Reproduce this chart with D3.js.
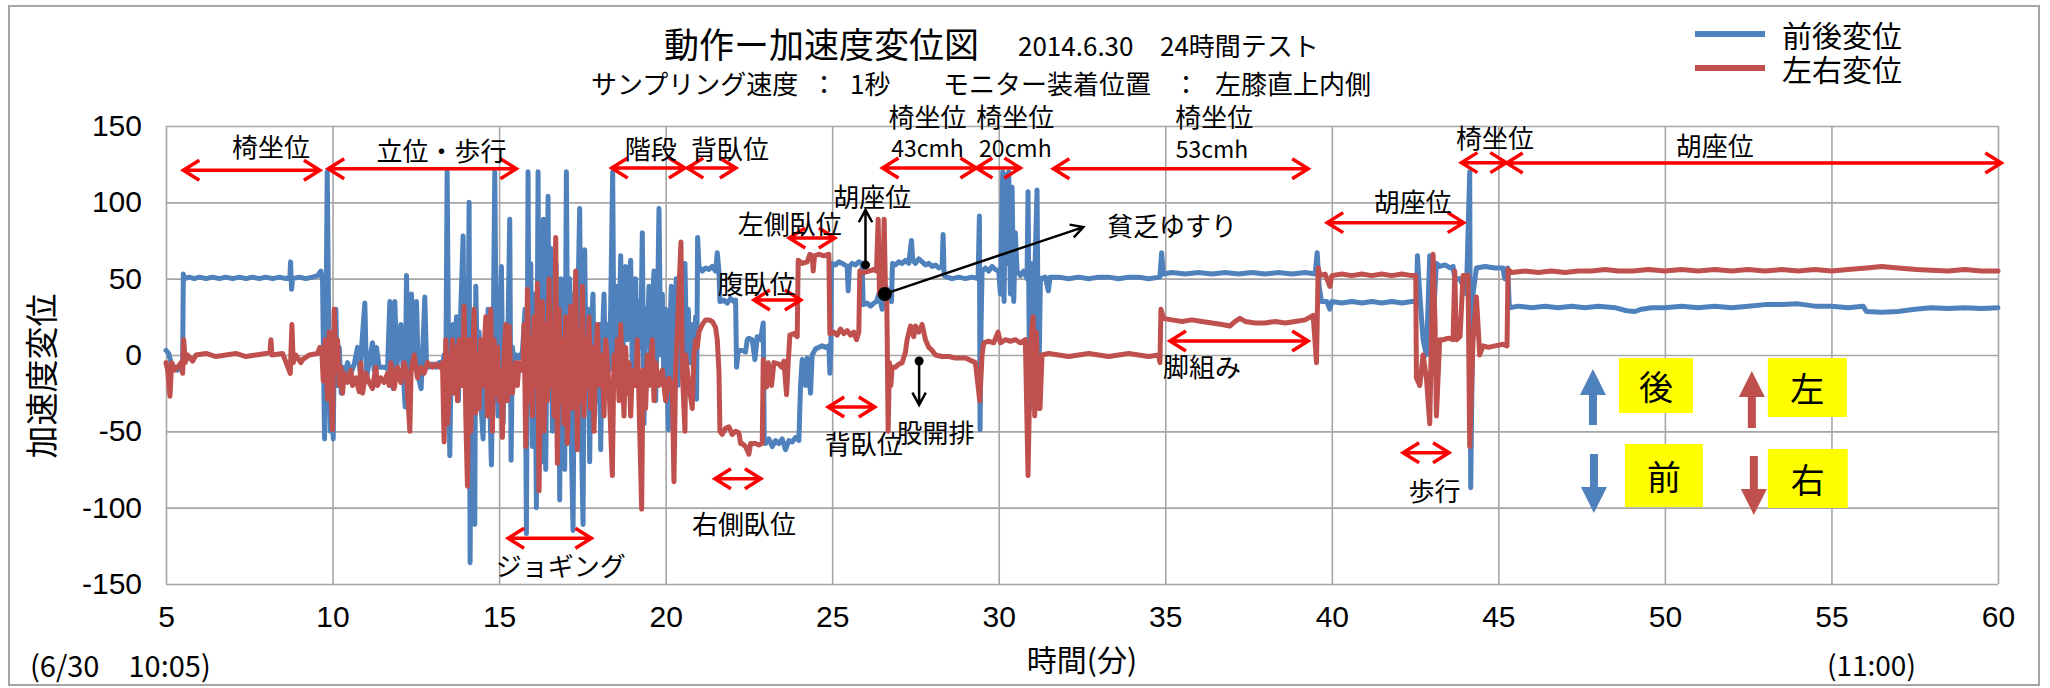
<!DOCTYPE html>
<html>
<head>
<meta charset="utf-8">
<script src="https://cdn.jsdelivr.net/npm/d3@7"></script>
<style>
  body { margin: 0; background: #fff; }
  text { font-family: "Noto Sans CJK JP", "Noto Sans", sans-serif; fill: #000; }
</style>
</head>
<body>
<svg id="chart"></svg>
<script>
// ── data ────────────────────────────────────────────
const xTicks = [5, 10, 15, 20, 25, 30, 35, 40, 45, 50, 55, 60];
const yTicks = [-150, -100, -50, 0, 50, 100, 150];
const seriesNames = ['前後変位', '左右変位'];

// 前後変位 [minutes, value]
const frontBack = [
  [5.00,3],[5.08,1],[5.15,-5],[5.25,-8],[5.35,-10],[5.45,-8],[5.50,-3],
  [5.52,53],[5.56,50],[5.70,51],[5.85,50],[6.00,51],[6.20,50],[6.40,51],[6.60,50],[6.80,51],[7.00,50],
  [7.20,51],[7.40,50],[7.60,51],[7.80,50],[8.00,51],[8.20,50],[8.40,51],[8.60,50],[8.72,51],[8.74,61],
  [8.77,43],[8.80,50],[9.00,51],[9.20,50],[9.40,51],[9.55,52],[9.65,55],[9.70,48],
  [9.76,-55],[9.80,10],[9.84,120],[9.88,30],[9.93,-50],[9.97,10],[10.02,-55],[10.06,15],[10.10,30],
  [10.14,-20],[10.20,5],[10.26,-25],[10.30,-8],[10.38,-12],[10.45,-5],[10.55,-12],[10.65,-6],[10.75,5],
  [10.82,-10],[10.97,34],[11.02,-15],[11.10,-5],[11.20,8],[11.25,-10],[11.32,5],[11.40,-8],[11.55,-8],
  [11.65,-9],[11.72,35],[11.77,-5],[11.82,-22],[11.87,35],[11.93,-8],[12.05,20],[12.12,-10],[12.18,-34],
  [12.22,52],[12.28,-10],[12.37,40],[12.43,-5],[12.52,35],[12.58,-15],[12.66,-22],[12.72,10],[12.77,38],
  [12.82,-5],[12.90,-8],[13.00,-6],[13.10,-8],[13.20,-5],[13.30,-6],
  [13.35,0],[13.40,-20],[13.44,120],[13.48,10],[13.52,-66],[13.56,-5],[13.62,20],[13.68,-10],[13.72,25],
  [13.78,-30],[13.82,10],[13.88,50],[13.92,78],[13.96,-20],[14.00,40],[14.05,-60],[14.10,100],[14.13,-136],
  [14.17,20],[14.22,-40],[14.27,-111],[14.30,45],[14.35,-10],[14.40,15],[14.45,-30],[14.52,-55],[14.57,10],
  [14.62,-20],[14.67,30],[14.72,-30],[14.77,-72],[14.82,0],[14.87,120],[14.92,-10],[14.97,-40],[15.02,20],
  [15.07,58],[15.12,-45],[15.17,10],[15.22,-30],[15.27,20],[15.32,89],[15.36,-69],[15.40,5],[15.45,-5],
  [15.52,0],[15.60,-2],[15.70,2],
  [15.78,30],[15.82,-117],[15.87,120],[15.90,-30],[15.95,60],[16.00,-60],[16.05,40],[16.09,-20],[16.12,-100],
  [16.17,120],[16.20,-40],[16.25,80],[16.30,-70],[16.33,89],[16.37,30],[16.40,-75],[16.44,20],[16.47,104],
  [16.50,-20],[16.55,70],[16.60,-50],[16.63,56],[16.67,40],[16.71,60],[16.75,-60],[16.79,30],[16.82,-95],
  [16.86,50],[16.90,-30],[16.94,10],[16.97,-75],[17.02,120],[17.07,-40],[17.12,50],[17.17,-60],[17.22,-115],
  [17.27,40],[17.32,-20],[17.37,40],[17.42,96],[17.47,-50],[17.52,-111],[17.57,69],[17.62,-30],[17.67,30],
  [17.72,-70],[17.77,20],[17.82,40],[17.87,-40],[17.92,10],[17.97,-30],[18.02,20],
  [18.05,-62],[18.10,10],[18.15,40],[18.20,-20],[18.25,20],[18.30,-10],[18.35,30],[18.41,120],[18.45,-10],
  [18.50,20],[18.55,45],[18.60,0],[18.65,65],[18.70,-20],[18.75,30],[18.80,58],[18.85,10],[18.90,40],
  [18.95,62],[19.00,-10],[19.05,25],[19.10,50],[19.15,-20],[19.20,35],[19.25,5],[19.30,80],[19.35,-45],
  [19.40,30],[19.45,10],[19.50,45],[19.55,-10],[19.60,30],[19.65,55],[19.70,-30],[19.75,20],[19.80,96],
  [19.85,0],[19.90,40],[19.95,-20],[20.00,30],[20.08,-49],[20.12,10],[20.17,45],[20.22,-35],[20.27,20],
  [20.32,50],[20.37,-20],[20.42,30],[20.47,10],[20.53,40],[20.58,60],[20.63,0],[20.68,30],[20.73,-5],
  [20.78,20],[20.84,-15],[20.90,25],[20.93,-29],
  [20.96,77],[21.00,58],[21.10,55],[21.20,57],[21.30,56],[21.40,58],[21.50,55],[21.55,67],[21.60,55],
  [21.63,35],[21.75,36],[21.85,34],[21.95,37],[22.05,35],[22.10,36],[22.13,-8],[22.18,3],[22.30,3],
  [22.40,2],[22.45,10],[22.50,11],[22.60,10],[22.68,-3],[22.75,12],[22.85,10],[22.93,21],[22.96,-55],
  [23.00,-58],[23.10,-55],[23.20,-60],[23.30,-56],[23.40,-58],[23.50,-55],[23.60,-62],[23.70,-56],
  [23.80,-57],[23.90,-54],[24.00,-56],
  [24.05,-20],[24.10,-3],[24.20,-20],[24.25,-2],[24.35,-25],[24.40,0],[24.50,4],[24.60,5],[24.70,6],
  [24.80,5],[24.90,6],[24.93,-12],[24.96,5],
  [24.98,60],[25.10,59],[25.20,61],[25.30,60],[25.45,58],[25.48,42],[25.52,58],[25.60,60],[25.70,59],
  [25.80,61],[25.90,60],
  [25.93,33],[26.05,34],[26.15,32],[26.25,34],[26.33,35],[26.40,40],[26.50,30],[26.60,45],[26.70,40],[26.78,35],
  [26.81,60],[26.90,59],[27.00,61],[27.10,60],[27.20,62],[27.30,60],[27.38,75],[27.42,62],[27.50,60],
  [27.60,63],[27.70,61],[27.80,59],[27.90,60],[28.00,58],[28.10,59],[28.20,57],[28.30,58],[28.33,79],
  [28.36,52],[28.45,51],[28.60,50],[28.80,51],[29.00,50],[29.20,51],[29.38,50],[29.42,91],[29.44,-49],
  [29.47,20],[29.50,55],[29.60,57],[29.70,55],[29.80,58],[29.90,56],[30.00,55],[30.05,40],[30.12,120],
  [30.16,35],[30.20,118],[30.25,60],[30.30,120],[30.35,40],[30.40,110],[30.45,35],[30.50,80],[30.55,55],
  [30.65,52],[30.75,55],[30.85,50],[30.88,107],[30.93,-35],[30.98,60],[31.03,-31],[31.08,50],[31.15,108],
  [31.20,-30],[31.25,50],
  [31.40,51],[31.49,42],[31.54,51],[31.80,51],[32.10,50],[32.40,51],[32.70,50],[33.00,51],[33.30,51],
  [33.60,50],[33.90,51],[34.20,51],[34.50,50],[34.84,51],[34.89,67],[34.94,53],[35.20,54],[35.60,53],
  [36.00,54],[36.40,53],[36.80,54],[37.20,53],[37.60,54],[38.00,53],[38.40,54],[38.80,53],[39.20,54],
  [39.50,53],[39.56,67],[39.62,45],[39.69,35],[39.85,35],[39.94,30],[40.00,35],[40.30,34],[40.60,35],
  [40.90,34],[41.20,35],[41.50,34],[41.80,35],[42.10,34],[42.40,35],[42.54,35],
  [42.57,65],[42.64,40],[42.74,10],[42.84,0],[42.94,65],[43.04,20],[43.14,60],[43.24,58],[43.40,59],
  [43.55,57],[43.64,58],[43.69,50],[43.84,50],[43.95,45],[44.04,40],[44.14,120],[44.17,-87],[44.24,40],
  [44.34,57],[44.60,58],[44.90,57],[45.14,57],[45.19,50],[45.28,57],[45.33,31],
  [45.60,32],[46.00,31],[46.40,32],[46.80,31],[47.20,32],[47.60,31],[48.00,32],[48.50,31],[48.85,29],
  [49.10,28.5],[49.30,30],[49.60,31],[50.00,31],[50.50,32],[51.00,31],[51.50,32],[52.00,31],[52.50,32],
  [53.00,33],[53.50,33],[54.00,33.5],[54.50,32],[55.00,32],[55.50,31],[55.95,32],[56.05,28.5],[56.50,28],
  [57.00,28.5],[57.50,30],[58.00,31],[58.50,30.5],[59.00,31],[59.50,30.5],[60.00,31]
];

// 左右変位 [minutes, value]
const leftRight = [
  [5.00,-5],[5.05,-10],[5.12,-27],[5.17,-5],[5.25,-10],[5.35,-8],[5.45,-5],[5.50,-12],[5.53,10],[5.58,-5],
  [5.65,0],[5.80,-4],[5.90,0],[6.20,1],[6.50,-1],[6.80,0],[7.10,1],[7.40,-1],[7.70,0],[8.00,1],[8.12,2],
  [8.15,10],[8.18,0],[8.50,1],[8.73,-12],[8.78,20],[8.82,-5],[8.90,0],[9.05,-5],[9.10,-3],[9.30,0],
  [9.55,1],[9.62,5],[9.68,2],
  [9.72,-17],[9.78,10],[9.85,-29],[9.90,15],[9.95,-25],[10.00,-49],[10.05,30],[10.10,-10],[10.15,10],
  [10.20,-20],[10.25,-8],[10.30,-25],[10.35,-12],[10.45,-18],[10.55,-10],[10.60,-20],[10.70,-15],
  [10.80,-24],[10.85,-5],[10.90,-25],[11.00,-12],[11.10,-18],[11.20,-22],[11.30,-8],[11.35,-20],
  [11.45,-15],[11.55,-18],[11.65,-12],[11.70,-20],[11.75,-5],[11.85,-22],[11.95,-8],[12.05,-18],
  [12.15,-5],[12.22,-12],[12.32,-50],[12.36,-10],[12.45,0],[12.55,-15],[12.65,-8],[12.75,-12],
  [12.85,-5],[13.00,-8],[13.10,-6],[13.20,-8],[13.30,-5],
  [13.35,-57],[13.40,10],[13.45,-45],[13.55,-5],[13.60,10],[13.65,-25],[13.70,5],[13.75,-30],[13.80,10],
  [13.85,-10],[13.90,-20],[13.95,32],[14.00,-40],[14.05,-86],[14.10,10],[14.15,-50],[14.20,-10],
  [14.25,30],[14.30,-38],[14.35,0],[14.40,-35],[14.45,10],[14.50,-20],[14.60,25],[14.65,-40],[14.70,0],
  [14.75,30],[14.80,-50],[14.85,10],[14.90,-25],[14.95,5],[15.00,-30],[15.05,-10],[15.10,-54],[15.15,0],
  [15.20,20],[15.25,-30],[15.30,19],[15.35,-15],[15.40,-25],[15.50,-5],[15.55,-20],[15.60,-5],[15.65,-10],
  [15.72,-5],[15.75,20],[15.80,-60],[15.85,43],[15.90,-30],[15.95,10],[16.00,-40],[16.05,25],[16.10,-20],
  [16.15,47],[16.20,-89],[16.25,0],[16.30,35],[16.35,-50],[16.40,20],[16.45,-30],[16.50,50],[16.55,-20],
  [16.60,15],[16.65,-40],[16.70,77],[16.75,-71],[16.80,30],[16.85,-30],[16.90,10],[16.95,-45],[17.00,25],
  [17.05,-58],[17.10,5],[17.15,32],[17.20,-35],[17.25,0],[17.30,55],[17.35,-62],[17.40,15],[17.45,-30],
  [17.50,45],[17.55,-40],[17.60,10],[17.65,-20],[17.70,25],[17.75,-35],[17.80,5],[17.85,-50],[17.90,0],
  [17.95,20],[18.00,-10],
  [18.03,-20],[18.10,0],[18.15,-40],[18.20,10],[18.30,-20],[18.40,-79],[18.45,0],[18.50,-20],[18.55,10],
  [18.60,-30],[18.65,20],[18.70,-10],[18.75,-40],[18.80,5],[18.85,-25],[18.90,-5],[18.95,-40],[19.00,-10],
  [19.10,-20],[19.15,10],[19.20,-30],[19.28,-101],[19.32,-10],[19.40,-35],[19.45,0],[19.50,-20],
  [19.60,10],[19.65,-30],[19.70,-5],[19.80,-20],[19.90,-10],[20.00,-30],[20.10,-15],[20.20,-20],
  [20.25,-83],[20.30,-10],[20.46,74],[20.50,-10],[20.58,-50],[20.60,0],[20.70,-20],[20.80,-35],
  [20.85,0],[20.90,10],
  [20.95,5],[21.00,15],[21.10,20],[21.20,23],[21.30,23],[21.40,22],[21.50,18],[21.55,10],[21.60,-10],
  [21.63,-50],[21.70,-52],[21.80,-48],[21.90,-47],[22.00,-52],[22.10,-50],[22.20,-51],[22.25,-58],
  [22.30,-58],[22.40,-60],[22.50,-65],[22.55,-58],[22.70,-58],[22.80,-59],[22.90,-58],
  [22.93,-3],[23.03,-21],[23.08,-5],[23.18,-20],[23.25,-5],[23.40,-6],[23.48,-8],[23.55,-4],[23.63,-26],
  [23.68,-5],[23.73,13],[23.85,14],[23.95,12],
  [23.98,62],[24.10,60],[24.25,61],[24.33,66],[24.40,65],[24.43,55],[24.47,65],[24.60,66],[24.75,65],[24.90,66],
  [24.93,14],[25.05,15],[25.15,13],[25.25,17],[25.35,14],[25.45,16],[25.55,13],[25.65,15],[25.73,10],[25.80,15],
  [25.83,55],[25.95,54],[26.10,55],[26.25,56],[26.33,55],[26.38,89],[26.42,40],[26.47,55],[26.52,45],
  [26.56,89],[26.60,41],[26.64,35],[26.68,-50],[26.72,-5],[26.76,-20],[26.80,-8],[26.90,-8],[27.00,-6],
  [27.10,-5],[27.20,2],[27.25,10],[27.35,19],[27.45,12],[27.50,19],[27.60,15],[27.70,20],[27.80,10],
  [27.90,5],[28.00,3],[28.10,0],[28.30,-1],[28.50,-1],[28.70,-2],[29.00,-2],[29.30,-5],
  [29.43,-30],[29.50,0],[29.55,8],[29.70,9],[29.85,8],[29.98,15],[30.05,8],[30.20,10],[30.35,9],
  [30.50,10],[30.65,8],[30.80,10],[30.88,-79],[30.95,5],[31.03,25],[31.08,-40],[31.13,15],[31.20,-35],
  [31.24,-35],[31.30,0],[31.50,1],[31.80,0],[32.10,-1],[32.40,0],[32.70,1],[33.00,0],[33.30,-1],
  [33.60,0],[33.90,1],[34.20,0],[34.50,-1],[34.80,0],[34.84,-5],[34.87,30],[34.95,24],[35.20,23],
  [35.50,22],[35.80,23],[36.10,22],[36.40,21],[36.70,20],[36.94,19],[37.10,22],[37.24,24],[37.40,22],
  [37.70,21],[38.00,21],[38.30,22],[38.60,21],[38.90,22],[39.20,23],[39.44,26],[39.54,-5],[39.59,57],
  [39.65,52],[39.80,53],[39.94,45],[40.00,52],[40.30,53],[40.60,52],[40.90,53],[41.20,52],[41.50,53],
  [41.80,52],[42.10,53],[42.40,52],[42.52,52],
  [42.54,-15],[42.64,-20],[42.74,0],[42.84,-15],[42.94,-45],[43.04,66],[43.10,20],[43.14,-40],[43.24,10],
  [43.34,10],[43.50,11],[43.64,10],[43.69,55],[43.74,10],[43.85,12],[43.94,52],[44.09,52],[44.14,-60],
  [44.24,10],[44.34,38],[44.44,0],[44.54,6],[44.70,5],[44.90,6],[45.14,7],[45.26,6],
  [45.29,56],[45.40,54],[45.80,55],[46.20,54],[46.60,55],[47.00,54],[47.40,55],[47.80,55],[48.20,56],
  [48.60,55],[49.05,55],[49.50,56],[50.00,55],[50.50,56],[51.00,55],[51.50,56],[52.00,55],[52.50,56],
  [53.00,55],[53.50,56],[54.00,55],[54.50,56],[55.00,55],[55.50,56],[56.05,57],[56.50,58],[57.00,57],
  [57.55,56],[58.00,55.5],[58.50,55],[59.00,56],[59.50,55],[60.00,55]
];

// red double-headed span arrows: [from min, to min, level]
const spans = [
  [5.52, 9.62, 121], [9.87, 15.52, 122], [18.38, 20.58, 122.5], [20.65, 22.11, 122.5],
  [26.51, 29.33, 122.5], [29.33, 30.65, 122.5], [31.64, 39.29, 122], [43.89, 45.24, 126],
  [45.25, 60.1, 125.8], [39.86, 43.96, 86.7], [23.71, 25.08, 76.6], [22.65, 24.06, 36],
  [35.14, 39.29, 9.2], [24.88, 26.28, -34], [42.14, 43.52, -64], [21.48, 22.86, -81],
  [15.27, 17.77, -120]
];

// activity labels: [text, centre min, centre value]
const labels = [
  ['椅坐位', 8.15, 137], ['立位・歩行', 13.27, 134.3], ['階段', 19.55, 136.2], ['背臥位', 21.93, 136.2],
  ['43cmh', 27.86, 136], ['20cmh', 30.5, 136], ['53cmh', 36.4, 135.6],
  ['椅坐位', 27.86, 157.2], ['椅坐位', 30.5, 157.2], ['椅坐位', 36.47, 157.2],
  ['椅坐位', 44.9, 142.8], ['胡座位', 51.5, 138.2], ['胡座位', 26.2, 104.8], ['左側臥位', 23.73, 87.1],
  ['腹臥位', 22.73, 47.8], ['貧乏ゆすり', 35.2, 85.2], ['胡座位', 42.43, 101.5], ['脚組み', 36.1, -7.2],
  ['股開排', 28.1, -49.8], ['背臥位', 25.95, -57], ['歩行', 43.08, -87.8], ['右側臥位', 22.35, -110],
  ['ジョギング', 16.85, -137.5]
];

// black pointers: [dot min, dot value, tip min, tip value, big dot?]
const pointers = [
  [26.0, 59, 26.0, 95, false],
  [27.61, -3.9, 27.61, -32.7, false],
  [26.58, 40, 32.54, 83.8, true]
];

// direction key: [label, box x0, box x1, box v0, box v1, arrow min, arrow v0, arrow v1, series]
const dirKey = [
  ['後', 48.62, 50.84, -2, -38, 47.84, -45.8, -9.2, 0],
  ['前', 48.80, 51.14, -58.3, -99.6, 47.87, -64.8, -103.5, 0],
  ['左', 53.09, 55.46, -2, -40.6, 52.61, -47.8, -10.5, 1],
  ['右', 53.09, 55.49, -61.6, -100.2, 52.67, -66.1, -104.8, 1]
];

// ── layout ──────────────────────────────────────────
const W = 2050, H = 688;
const M = { left: 166, top: 126, right: 1998, bottom: 584 };
const colors = ['#4F81BD', '#C0504D'];
const GRID = '#a6a6a6';
const RED = '#FF0000';

const svg = d3.select('#chart').attr('width', W).attr('height', H);

svg.append('rect').attr('x', 9).attr('y', 6).attr('width', 2030).attr('height', 679)
  .attr('fill', '#fff').attr('stroke', '#a6a6a6').attr('stroke-width', 2);

const x = d3.scaleLinear().domain([5, 60]).range([M.left, M.right]);
const y = d3.scaleLinear().domain([-150, 150]).range([M.bottom, M.top]);

// Grid
svg.append('g').attr('transform', `translate(0,${M.bottom})`)
  .call(d3.axisBottom(x).tickValues(xTicks).tickSize(-(M.bottom - M.top)).tickFormat(''))
  .call(g => g.select('.domain').remove())
  .call(g => g.selectAll('line').attr('stroke', GRID).attr('stroke-width', 1.6));
svg.append('g').attr('transform', `translate(${M.left},0)`)
  .call(d3.axisLeft(y).tickValues(yTicks).tickSize(-(M.right - M.left)).tickFormat(''))
  .call(g => g.select('.domain').remove())
  .call(g => g.selectAll('line').attr('stroke', GRID).attr('stroke-width', 1.6));

// Tick labels
svg.append('g').attr('transform', `translate(0,${M.bottom})`)
  .call(d3.axisBottom(x).tickValues(xTicks).tickSize(0).tickPadding(22).tickFormat(d3.format('d')))
  .call(g => g.select('.domain').remove())
  .call(g => g.selectAll('text').attr('font-size', 30).attr('fill', '#000')
    .style('font-family', '"Liberation Sans", sans-serif'));
svg.append('g').attr('transform', `translate(${M.left},0)`)
  .call(d3.axisLeft(y).tickValues(yTicks).tickSize(0).tickPadding(24).tickFormat(d => d < 0 ? '-' + Math.abs(d) : d))
  .call(g => g.select('.domain').remove())
  .call(g => g.selectAll('text').attr('font-size', 30).attr('fill', '#000')
    .style('font-family', '"Liberation Sans", sans-serif'));

// Series
const line = d3.line().x(d => x(d[0])).y(d => y(d[1]));
[frontBack, leftRight].forEach((data, i) => {
  svg.append('path').datum(data).attr('d', line)
    .attr('fill', 'none').attr('stroke', colors[i]).attr('stroke-width', 5)
    .attr('stroke-linejoin', 'round').attr('stroke-linecap', 'round');
});

// Red span arrows
const chevron = (px, py, dir, L, h) => `M${px + dir * L},${py - h}L${px},${py}L${px + dir * L},${py + h}`;
spans.forEach(([a, b, v]) => {
  const x0 = x(a), x1 = x(b), yy = y(v);
  svg.append('path')
    .attr('d', `M${x0},${yy}L${x1},${yy}` + chevron(x0, yy, 1, 16, 10) + chevron(x1, yy, -1, 16, 10))
    .attr('fill', 'none').attr('stroke', RED).attr('stroke-width', 3.5);
});

// Black pointers
pointers.forEach(([a, va, b, vb, big]) => {
  const x0 = x(a), y0 = y(va), x1 = x(b), y1 = y(vb);
  const ang = Math.atan2(y1 - y0, x1 - x0);
  const L = 14, spread = 0.5;
  const h1 = [x1 - L * Math.cos(ang - spread), y1 - L * Math.sin(ang - spread)];
  const h2 = [x1 - L * Math.cos(ang + spread), y1 - L * Math.sin(ang + spread)];
  svg.append('path')
    .attr('d', `M${x0},${y0}L${x1},${y1}M${h1[0]},${h1[1]}L${x1},${y1}L${h2[0]},${h2[1]}`)
    .attr('fill', 'none').attr('stroke', '#000').attr('stroke-width', 2.5);
  svg.append('circle').attr('cx', x0).attr('cy', y0).attr('r', big ? 7 : 4.5).attr('fill', '#000');
});

// Activity labels
svg.append('g').selectAll('text').data(labels).join('text')
  .attr('x', d => x(d[1])).attr('y', d => y(d[2]))
  .attr('text-anchor', 'middle').attr('dominant-baseline', 'central')
  .attr('font-size', d => /cmh/.test(d[0]) ? 23 : 26).text(d => d[0]);

// Direction key
dirKey.forEach(([lab, bx0, bx1, bv0, bv1, am, av0, av1, s]) => {
  svg.append('rect').attr('x', x(bx0)).attr('y', y(bv0))
    .attr('width', x(bx1) - x(bx0)).attr('height', y(bv1) - y(bv0)).attr('fill', '#FFFF00');
  svg.append('text').attr('x', (x(bx0) + x(bx1)) / 2).attr('y', (y(bv0) + y(bv1)) / 2)
    .attr('text-anchor', 'middle').attr('dominant-baseline', 'central').attr('font-size', 34).text(lab);
  const ax = x(am), ya = y(av0), yt = y(av1);
  const dir = Math.sign(yt - ya);
  const hb = yt - dir * 26;
  svg.append('path')
    .attr('d', `M${ax - 4},${ya}L${ax - 4},${hb}L${ax - 13},${hb}L${ax},${yt}L${ax + 13},${hb}L${ax + 4},${hb}L${ax + 4},${ya}Z`)
    .attr('fill', colors[s]);
});

// Titles
const T = (tx, ty, str, size, anchor) => svg.append('text').attr('x', tx).attr('y', ty)
  .attr('font-size', size).attr('dominant-baseline', 'central')
  .attr('text-anchor', anchor || 'start').text(str);
T(664, 42, '動作ー加速度変位図', 35);
T(1018, 44, '2014.6.30', 26);
T(1160, 44, '24時間テスト', 26);
T(591, 82, 'サンプリング速度', 26);
T(811, 82, '：', 26);
T(850, 82, '1秒', 26);
T(943, 82, 'モニター装着位置', 26);
T(1173, 82, '：', 26);
T(1215, 82, '左膝直上内側', 26);
T(1082, 658, '時間(分)', 30, 'middle');
T(30, 664, '(6/30　10:05)', 29);
T(1827, 664, '(11:00)', 28);
svg.append('text').attr('transform', 'translate(40,376) rotate(-90)')
  .attr('text-anchor', 'middle').attr('dominant-baseline', 'central')
  .attr('font-size', 33).text('加速度変位');

// Legend
seriesNames.forEach((name, i) => {
  const ly = 34 + i * 34;
  svg.append('line').attr('x1', 1695).attr('x2', 1765).attr('y1', ly).attr('y2', ly)
    .attr('stroke', colors[i]).attr('stroke-width', 6);
  T(1782, ly, name, 30);
});
</script>
</body>
</html>
